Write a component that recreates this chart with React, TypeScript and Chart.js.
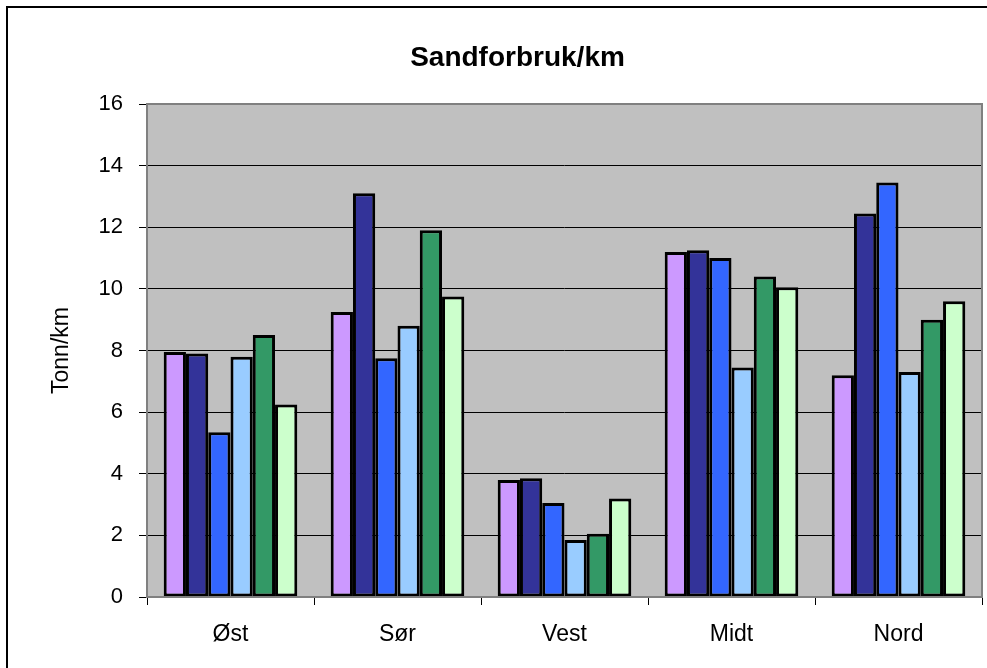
import React, { useEffect, useRef } from "react";
import { Chart, registerables } from "chart.js";

Chart.register(...registerables);

const categories = ["Øst", "Sør", "Vest", "Midt", "Nord"];
const series1 = [7.95, 9.25, 3.8, 11.2, 7.2];
const series2 = [7.9, 13.1, 3.85, 11.25, 12.45];
const series3 = [5.35, 7.75, 3.05, 11.0, 13.45];
const series4 = [7.8, 8.8, 1.85, 7.45, 7.3];
const series5 = [8.5, 11.9, 2.05, 10.4, 9.0];
const series6 = [6.25, 9.75, 3.2, 10.05, 9.6];
const seriesColors = ["#CC99FF", "#333399", "#3366FF", "#99CCFF", "#339966", "#CCFFCC"];
const chartTitle = "Sandforbruk/km";
const yTitle = "Tonn/km";

const FONT = "'Liberation Sans', Arial, sans-serif";

const framePlugin = {
  id: "frame",
  beforeDraw(chart: any) {
    const ctx = chart.ctx;
    ctx.save();
    ctx.fillStyle = "#ffffff";
    ctx.fillRect(0, 0, chart.width, chart.height);
    ctx.strokeStyle = "#000000";
    ctx.lineWidth = 2;
    ctx.strokeRect(7, 7, chart.width + 50, chart.height + 50);
    const a = chart.chartArea;
    ctx.fillStyle = "#C0C0C0";
    ctx.fillRect(a.left, a.top, a.right - a.left, a.bottom - a.top);
    ctx.restore();
  },
  afterDraw(chart: any) {
    const ctx = chart.ctx;
    const a = chart.chartArea;
    ctx.save();
    ctx.strokeStyle = "#808080";
    ctx.lineWidth = 2;
    ctx.strokeRect(a.left, a.top, a.right - a.left, a.bottom - a.top);
    ctx.fillStyle = "#000000";
    ctx.font = `bold 28px ${FONT}`;
    ctx.textAlign = "center";
    ctx.textBaseline = "alphabetic";
    ctx.fillText(chartTitle, (a.left + a.right) / 2 - 47, 66);
    ctx.restore();
  },
};

export default function App() {
  const ref = useRef<HTMLCanvasElement>(null);
  useEffect(() => {
    if (!ref.current) return;
    const data = [series1, series2, series3, series4, series5, series6];
    const chart = new Chart(ref.current, {
      type: "bar",
      data: {
        labels: categories,
        datasets: data.map((d, i) => ({
          label: "Serie " + (i + 1),
          data: d,
          backgroundColor: seriesColors[i],
          borderColor: "#000000",
          borderWidth: 3,
          borderSkipped: false,
          categoryPercentage: 0.8,
          barPercentage: 1.0,
        })),
      },
      options: {
        animation: false,
        responsive: false,
        maintainAspectRatio: false,
        layout: { padding: { left: 0, right: 5, top: 104, bottom: 0 } },
        plugins: {
          legend: { display: false },
          title: { display: false },
          tooltip: { enabled: false },
        },
        scales: {
          x: {
            grid: {
              display: true,
              drawOnChartArea: false,
              drawTicks: true,
              tickLength: 8,
              color: "#000000",
              offset: true,
            },
            border: { display: false },
            ticks: {
              color: "#000000",
              font: { family: FONT, size: 23 },
              padding: 16,
            },
            afterFit(scale: any) {
              scale.height = 71;
            },
          },
          y: {
            min: 0,
            max: 16,
            ticks: {
              stepSize: 2,
              color: "#000000",
              font: { family: FONT, size: 22 },
              padding: 16,
            },
            grid: {
              color: "#000000",
              lineWidth: 1,
              tickLength: 8,
              drawTicks: true,
            },
            border: { display: false },
            title: {
              display: true,
              text: yTitle,
              color: "#000000",
              font: { family: FONT, size: 23 },
              padding: { top: 48, bottom: 0 },
            },
            afterFit(scale: any) {
              scale.width = 147;
            },
          },
        },
      },
      plugins: [framePlugin],
    });
    return () => chart.destroy();
  }, []);
  return (
    <div style={{ position: "absolute", left: 0, top: 0, width: 987, height: 668 }}>
      <canvas ref={ref} width={987} height={668} style={{ display: "block" }} />
    </div>
  );
}
